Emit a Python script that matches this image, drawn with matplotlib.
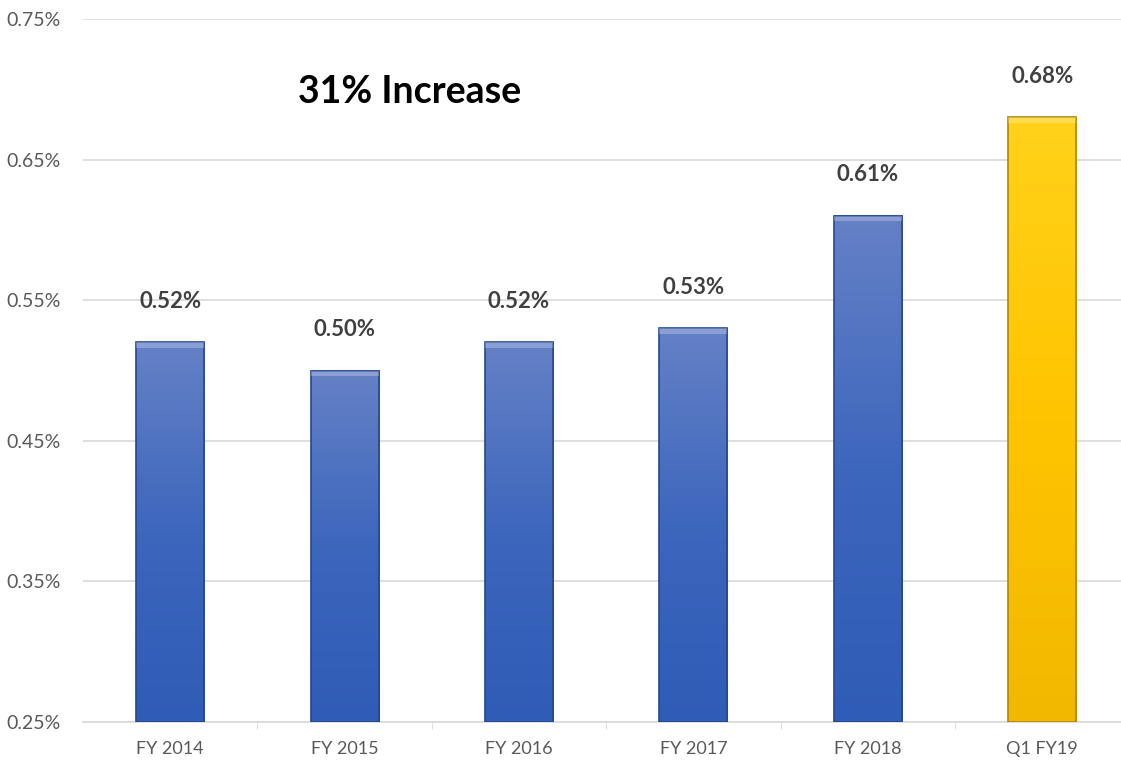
import numpy as np
import matplotlib.pyplot as plt
from matplotlib.colors import LinearSegmentedColormap
from matplotlib.patches import Rectangle

categories = ['FY 2014', 'FY 2015', 'FY 2016', 'FY 2017', 'FY 2018', 'Q1 FY19']
values = [0.52, 0.50, 0.52, 0.53, 0.61, 0.68]
labels = ['0.52%', '0.50%', '0.52%', '0.53%', '0.61%', '0.68%']
yticks = [0.25, 0.35, 0.45, 0.55, 0.65, 0.75]

plt.rcParams['font.family'] = ['Lato', 'DejaVu Sans']

fig = plt.figure(figsize=(11.21, 7.62), dpi=100)
ax = fig.add_axes([0.074, 0.0525, 0.926, 0.9225])

blue = LinearSegmentedColormap.from_list('b', ['#2f5cb6', '#3d66bd', '#6581c6'])
gold = LinearSegmentedColormap.from_list('g', ['#f2b800', '#ffc400', '#ffd21a'])
grad = np.linspace(0, 1, 256).reshape(-1, 1)

x = np.arange(len(categories))
w = 0.39
ymin = 0.25
for i, v in enumerate(values):
    cmap = gold if i == len(values) - 1 else blue
    edge = '#b08600' if i == len(values) - 1 else '#24488f'
    ax.imshow(grad, cmap=cmap, origin='lower', aspect='auto',
              extent=[x[i] - w / 2, x[i] + w / 2, ymin, v], zorder=3)
    ax.add_patch(Rectangle((x[i] - w / 2, ymin), w, v - ymin, fill=False,
                           edgecolor=edge, lw=1.2, zorder=4))
    # bevel highlight on top
    ax.add_patch(Rectangle((x[i] - w / 2, v - 0.004), w, 0.004,
                           facecolor='white', alpha=0.25, lw=0, zorder=4))
    ax.annotate(labels[i], (x[i], v), xytext=(0, 22), textcoords='offset points',
                ha='center', va='bottom', fontsize=16, fontweight='bold',
                color='#404040')

ax.set_xlim(-0.5, 5.452)
ax.set_ylim(0.25, 0.75)
ax.set_yticks(yticks)
ax.set_yticklabels([f'{t:.2f}%' for t in yticks])
ax.set_xticks(x)
ax.set_xticklabels(categories)
ax.set_xticks(x[:-1] + 0.5, minor=True)
ax.tick_params(axis='x', which='major', length=0, pad=14, labelsize=13,
               labelcolor='#595959')
ax.tick_params(axis='x', which='minor', length=5, color='#d9d9d9')
ax.tick_params(axis='y', length=0, pad=16, labelsize=14, labelcolor='#595959')
ax.grid(axis='y', color='#d9d9d9', lw=1.2, zorder=0)
for s in ['top', 'right', 'left']:
    ax.spines[s].set_visible(False)
ax.spines['bottom'].set_color('#d9d9d9')
ax.spines['bottom'].set_linewidth(1.2)

ax.text(0.315, 0.896, '31% Increase', transform=ax.transAxes, ha='center',
        va='center', fontsize=27, fontweight='bold', color='black')

fig.savefig('out.png', dpi=100)
